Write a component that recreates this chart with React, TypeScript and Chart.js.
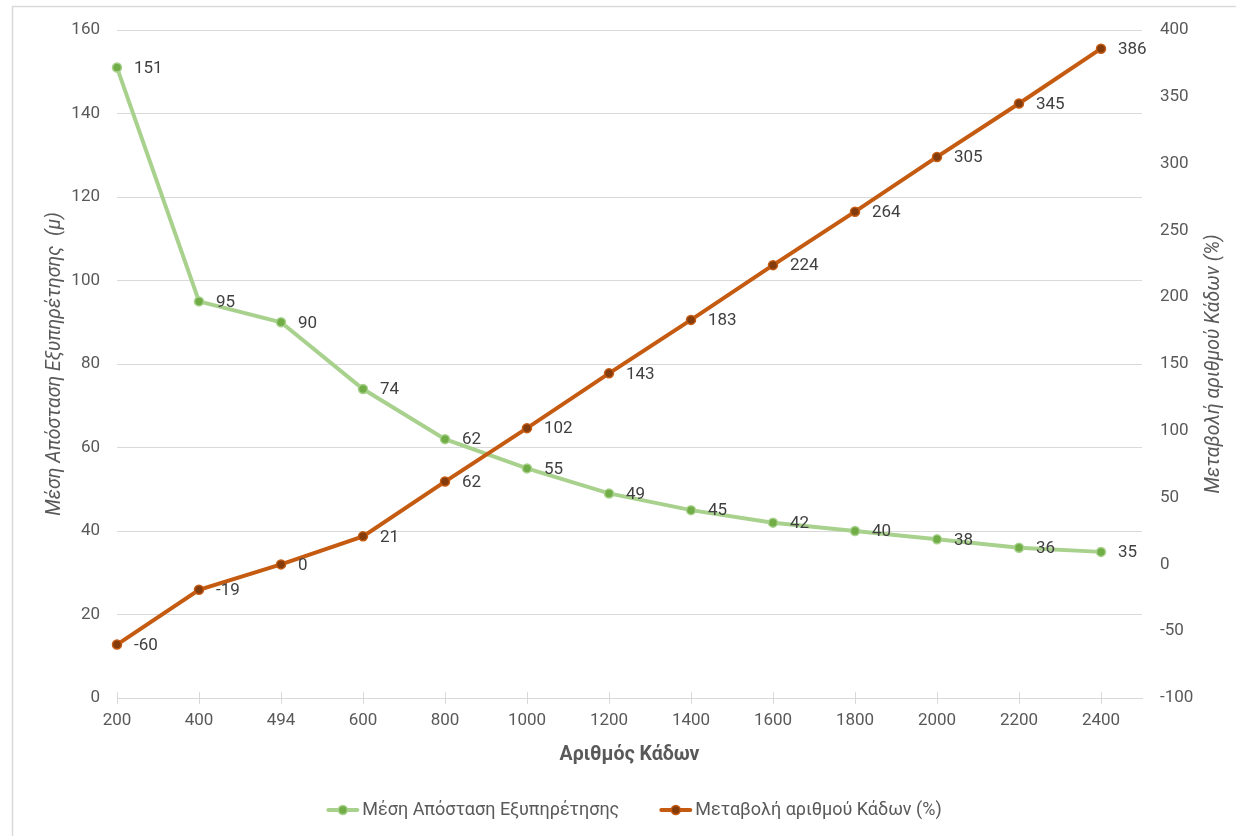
import React, { useEffect, useRef } from "react";
import { Chart, registerables } from "chart.js";

Chart.register(...registerables);

// Number of bins (category labels along the x axis)
const binCounts = ["200", "400", "494", "600", "800", "1000", "1200", "1400", "1600", "1800", "2000", "2200", "2400"];
// Mean service distance (m), left axis
const meanDistance = [151, 95, 90, 74, 62, 55, 49, 45, 42, 40, 38, 36, 35];
// Change in number of bins (%), right axis
const binChangePct = [-60, -19, 0, 21, 62, 102, 143, 183, 224, 264, 305, 345, 386];

const distanceName = "Μέση Απόσταση Εξυπηρέτησης";
const changeName = "Μεταβολή αριθμού Κάδων (%)";
const xTitle = "Αριθμός Κάδων";
const leftTitle = "Μέση Απόσταση Εξυπηρέτησης  (μ)";
const rightTitle = "Μεταβολή αριθμού Κάδων (%)";

const FONT = "Roboto, 'Open Sans', 'Noto Sans', sans-serif";
const GREEN_LINE = "#A9D18E";
const GREEN_DOT = "#70AD47";
const ORANGE_LINE = "#C55A11";
const ORANGE_DOT = "#843C0C";
const GRID = "#D9D9D9";
const TICK_TEXT = "#595959";
const LABEL_TEXT = "#404040";
const TITLE_SIZE = 19.5;

const W = 1236;
const H = 836;

// White background and the light frame around the chart
const framePlugin = {
  id: "frame",
  beforeDraw(chart: any) {
    const ctx = chart.ctx;
    ctx.save();
    ctx.fillStyle = "#ffffff";
    ctx.fillRect(0, 0, chart.width, chart.height);
    ctx.strokeStyle = GRID;
    ctx.lineWidth = 1.5;
    ctx.strokeRect(12.5, 6.5, chart.width + 50, chart.height + 50);
    ctx.restore();
  },
};

// Tick marks crossing the category axis
const crossTicksPlugin = {
  id: "crossTicks",
  beforeDatasetsDraw(chart: any) {
    const ctx = chart.ctx;
    const xs = chart.scales.x;
    const y = chart.chartArea.bottom;
    ctx.save();
    ctx.strokeStyle = GRID;
    ctx.lineWidth = 1;
    binCounts.forEach((_, i) => {
      const x = Math.round(xs.getPixelForValue(i)) + 0.5;
      ctx.beginPath();
      ctx.moveTo(x, y - 6);
      ctx.lineTo(x, y + 6);
      ctx.stroke();
    });
    ctx.restore();
  },
};

// Value labels to the right of every point
const valueLabelsPlugin = {
  id: "valueLabels",
  afterDatasetsDraw(chart: any) {
    const ctx = chart.ctx;
    ctx.save();
    ctx.font = `17px ${FONT}`;
    ctx.fillStyle = LABEL_TEXT;
    ctx.textAlign = "left";
    ctx.textBaseline = "middle";
    chart.data.datasets.forEach((ds: any, di: number) => {
      const meta = chart.getDatasetMeta(di);
      meta.data.forEach((pt: any, i: number) => {
        ctx.fillText(String(ds.data[i].y), pt.x + 17, pt.y + 1);
      });
    });
    ctx.restore();
  },
};

// Right axis title, reading bottom to top
const rightTitlePlugin = {
  id: "rightTitle",
  afterDraw(chart: any) {
    const ctx = chart.ctx;
    const { top, bottom } = chart.chartArea;
    ctx.save();
    ctx.translate(1214, (top + bottom) / 2);
    ctx.rotate(-Math.PI / 2);
    ctx.font = `italic ${TITLE_SIZE}px ${FONT}`;
    ctx.fillStyle = TICK_TEXT;
    ctx.textAlign = "center";
    ctx.textBaseline = "middle";
    ctx.fillText(rightTitle, 0, 0);
    ctx.restore();
  },
};

// Legend with line-and-marker samples
const legendPlugin = {
  id: "lineLegend",
  afterDraw(chart: any) {
    const ctx = chart.ctx;
    ctx.save();
    ctx.font = `18px ${FONT}`;
    ctx.textBaseline = "middle";
    ctx.textAlign = "left";
    const items = chart.data.datasets.map((ds: any) => ({
      text: ds.label,
      line: ds.borderColor,
      dot: ds.pointBackgroundColor,
    }));
    const sample = 33;
    const gapText = 3;
    const gapItems = 40;
    const widths = items.map((it: any) => sample + gapText + ctx.measureText(it.text).width);
    const total = widths.reduce((a: number, b: number) => a + b, 0) + gapItems * (items.length - 1);
    let x = 634 - total / 2;
    const y = 810;
    items.forEach((it: any, i: number) => {
      ctx.strokeStyle = it.line;
      ctx.lineWidth = 4;
      ctx.lineCap = "round";
      ctx.beginPath();
      ctx.moveTo(x + 2, y);
      ctx.lineTo(x + sample - 2, y);
      ctx.stroke();
      ctx.beginPath();
      ctx.arc(x + sample / 2, y, 4.5, 0, Math.PI * 2);
      ctx.fillStyle = it.dot;
      ctx.fill();
      ctx.lineWidth = 1.5;
      ctx.strokeStyle = it.line;
      ctx.stroke();
      ctx.fillStyle = TICK_TEXT;
      ctx.fillText(it.text, x + sample + gapText, y);
      x += widths[i] + gapItems;
    });
    ctx.restore();
  },
};

export default function App() {
  const canvasRef = useRef<HTMLCanvasElement | null>(null);

  useEffect(() => {
    if (!canvasRef.current) return;
    const chart = new Chart(canvasRef.current, {
      type: "line",
      data: {
        datasets: [
          {
            label: distanceName,
            data: meanDistance.map((v, i) => ({ x: i, y: v })),
            yAxisID: "y",
            borderColor: GREEN_LINE,
            backgroundColor: GREEN_LINE,
            borderWidth: 4,
            pointRadius: 4.5,
            pointBorderWidth: 1.5,
            pointBackgroundColor: GREEN_DOT,
            pointBorderColor: GREEN_LINE,
            tension: 0,
            clip: false,
            order: 1,
          },
          {
            label: changeName,
            data: binChangePct.map((v, i) => ({ x: i, y: v })),
            yAxisID: "y1",
            borderColor: ORANGE_LINE,
            backgroundColor: ORANGE_LINE,
            borderWidth: 4,
            pointRadius: 4.5,
            pointBorderWidth: 1.5,
            pointBackgroundColor: ORANGE_DOT,
            pointBorderColor: ORANGE_LINE,
            tension: 0,
            clip: false,
            order: 0,
          },
        ],
      },
      options: {
        responsive: false,
        animation: false,
        devicePixelRatio: 1,
        layout: { padding: { top: 30, left: 0, right: 0, bottom: 0 } },
        plugins: {
          legend: { display: false },
          tooltip: { enabled: false },
        },
        scales: {
          x: {
            type: "linear",
            min: 0,
            max: 12.5,
            grid: { display: false, drawTicks: false },
            border: { display: true, color: GRID, width: 1 },
            ticks: {
              stepSize: 1,
              includeBounds: false,
              autoSkip: false,
              maxRotation: 0,
              padding: 13,
              color: TICK_TEXT,
              font: { family: FONT, size: 17 },
              callback: (v: any) => (Number.isInteger(v) ? binCounts[v] : ""),
            },
            title: {
              display: true,
              text: xTitle,
              color: TICK_TEXT,
              font: { family: FONT, size: TITLE_SIZE, weight: "bold" },
              padding: { top: 0, bottom: 69 },
            },
            afterFit: (s: any) => {
              s.height = H - 698;
            },
          },
          y: {
            position: "left",
            min: 0,
            max: 160,
            grid: { color: GRID, lineWidth: 1, drawTicks: false },
            border: { display: false },
            ticks: {
              stepSize: 20,
              padding: 17,
              color: TICK_TEXT,
              font: { family: FONT, size: 17 },
            },
            title: {
              display: true,
              text: leftTitle,
              color: TICK_TEXT,
              font: { family: FONT, size: TITLE_SIZE, style: "italic" },
              padding: { top: 43, bottom: 0 },
            },
            afterFit: (s: any) => {
              s.width = 117;
            },
          },
          y1: {
            position: "right",
            min: -100,
            max: 400,
            grid: { drawOnChartArea: false, drawTicks: false },
            border: { display: false },
            ticks: {
              stepSize: 50,
              padding: 18,
              color: TICK_TEXT,
              font: { family: FONT, size: 17 },
            },
            afterFit: (s: any) => {
              s.width = W - 1142;
            },
          },
        },
      } as any,
      plugins: [framePlugin, crossTicksPlugin, valueLabelsPlugin, rightTitlePlugin, legendPlugin],
    });
    return () => chart.destroy();
  }, []);

  return (
    <div style={{ position: "absolute", left: 0, top: 0, width: W, height: H, overflow: "hidden" }}>
      <canvas ref={canvasRef} width={W} height={H} style={{ display: "block" }} />
    </div>
  );
}
